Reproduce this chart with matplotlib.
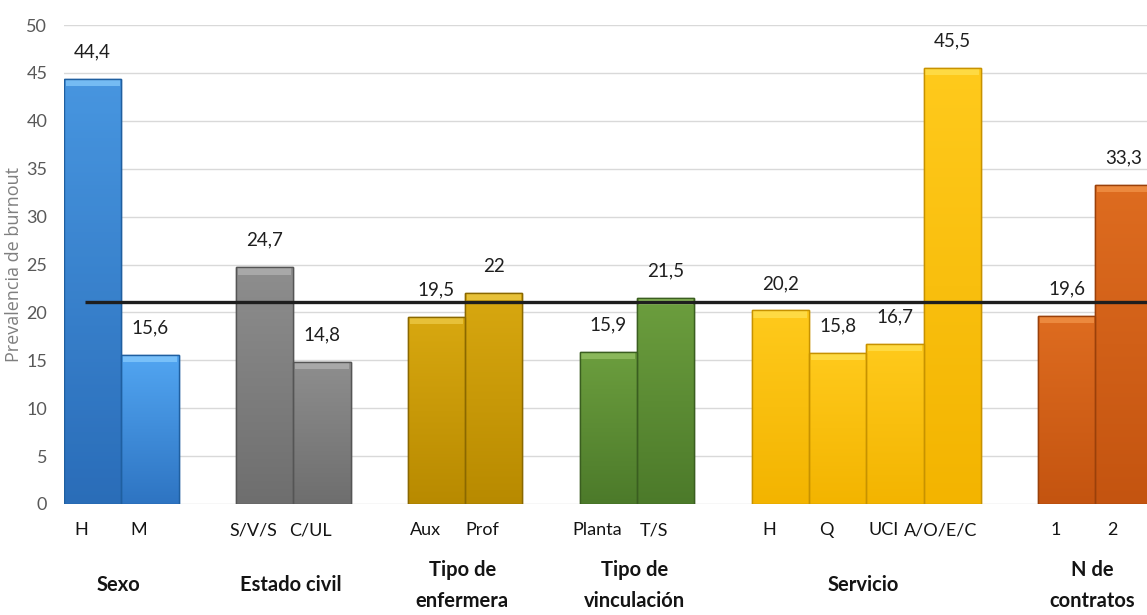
import numpy as np
import matplotlib
matplotlib.use("Agg")
import matplotlib.pyplot as plt
from matplotlib.colors import LinearSegmentedColormap
import matplotlib.transforms as mtransforms

plt.rcParams['font.family'] = ['Lato', 'DejaVu Sans']

# ---- data ----
group_names = ["Sexo", "Estado civil", "Tipo de\nenfermera", "Tipo de\nvinculación", "Servicio", "N de\ncontratos"]
group_sizes = [2, 2, 2, 2, 4, 2]
categories = ["H", "M", "S/V/S", "C/UL", "Aux", "Prof", "Planta", "T/S",
              "H", "Q", "UCI", "A/O/E/C", "1", "2"]
values = [44.4, 15.6, 24.7, 14.8, 19.5, 22.0, 15.9, 21.5,
          20.2, 15.8, 16.7, 45.5, 19.6, 33.3]
overall_prevalence = 21.1
y_ticks = [0, 5, 10, 15, 20, 25, 30, 35, 40, 45, 50]
y_label = "Prevalencia de burnout"

# ---- styles (top colour, bottom colour) per group ----
group_colors = [("#52a6f2", "#2e74c2"),
                ("#8e8e8e", "#6e6e6e"),
                ("#d8a810", "#b88a00"),
                ("#6c9e3e", "#4c7a2a"),
                ("#ffca1c", "#f3b400"),
                ("#de6c20", "#c45410")]
edge_colors = ["#1f5fa0", "#555555", "#8a6800", "#3a5e20", "#c79200", "#9a400a"]
top_colors = ["#8fd0ff", "#b8b8b8", "#f0d050", "#9cc86a", "#ffe45a", "#f59a50"]

fig = plt.figure(figsize=(11.47, 6.15), dpi=100)
ax = fig.add_axes([64/1147, 111/615, (1147-64)/1147, 479/615])

# positions: one empty slot between groups
positions = []
group_centers = []
g_of_bar = []
slot = 0
for gi, n in enumerate(group_sizes):
    start = slot
    for k in range(n):
        positions.append(slot)
        g_of_bar.append(gi)
        slot += 1
    group_centers.append((start + slot - 1) / 2.0)
    slot += 1
positions = np.array(positions, dtype=float)

ax.set_xlim(-0.5, 18.4)
ax.set_ylim(0, 50)
ax.set_yticks(y_ticks)
ax.grid(axis='y', color='#d9d9d9', linewidth=1.0, zorder=0)
ax.set_axisbelow(True)
for s in ax.spines.values():
    s.set_visible(False)

bars = ax.bar(positions, values, width=1.0, zorder=2,
              color=[group_colors[g][0] for g in g_of_bar],
              edgecolor=[edge_colors[g] for g in g_of_bar], linewidth=1.0)

# gradient fill clipped to each bar
grad = np.linspace(0, 1, 256).reshape(-1, 1)
for b, g, v in zip(bars, g_of_bar, values):
    cmap = LinearSegmentedColormap.from_list("c", [group_colors[g][1], group_colors[g][0]])
    x0 = b.get_x()
    im = ax.imshow(grad, cmap=cmap, aspect='auto', origin='lower',
                   extent=[x0, x0 + b.get_width(), 0, v], zorder=2.1,
                   interpolation='bicubic')
    im.set_clip_path(b)
# darker left bar in the blue group
ax.bar(positions[0], values[0], width=1.0, color='#1a4f90', alpha=0.18, zorder=2.2, linewidth=0)
# bevel highlight on top
ax.bar(positions, [0.75] * len(values), bottom=np.array(values) - 0.75, width=0.94,
       color=[top_colors[g] for g in g_of_bar], alpha=0.65, zorder=2.3, linewidth=0)
# outline on top of gradient
ax.bar(positions, values, width=1.0, fill=False,
       edgecolor=[edge_colors[g] for g in g_of_bar], linewidth=1.0, zorder=2.4)

ax.set_xlim(-0.5, 18.4)
ax.set_ylim(0, 50)

# overall prevalence line
ax.plot([-0.13, 18.4], [overall_prevalence, overall_prevalence], color='#1e1e1e',
        linewidth=2.4, zorder=3, solid_capstyle='butt')

# value labels
for x, v in zip(positions, values):
    txt = f"{v:g}".replace('.', ',')
    ax.annotate(txt, (x, v), xytext=(0, 19.5), textcoords='offset points',
                ha='center', va='center', fontsize=13.5, color='#1f1f1f', zorder=4)

# axes text
ax.tick_params(axis='y', length=0, pad=12, labelsize=13, labelcolor='#595959')
ax.set_xticks(positions - 0.2)
ax.set_xticklabels(categories, fontsize=13, color='#141414')
ax.tick_params(axis='x', length=0, pad=13)
ax.set_ylabel(y_label, fontsize=13, color='#7f7f7f', family=['Open Sans', 'DejaVu Sans'])
ax.yaxis.set_label_coords(-0.038, 0.5)

trans = mtransforms.blended_transform_factory(ax.transData, ax.transAxes)
for name, c in zip(group_names, group_centers):
    ax.text(c - 0.05, -0.17, name, transform=trans, ha='center', va='center',
            fontsize=14.5, fontweight='bold', color='#141414', linespacing=1.7)

fig.savefig("out.png", dpi=100)
